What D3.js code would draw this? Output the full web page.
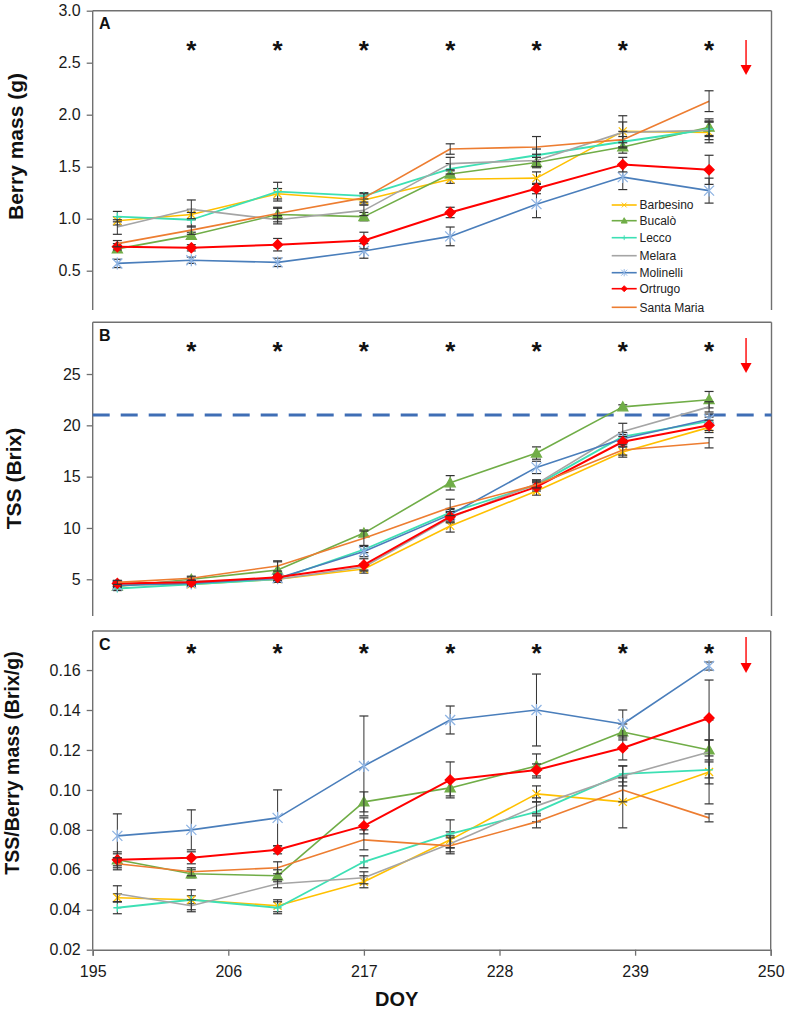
<!DOCTYPE html>
<html><head><meta charset="utf-8">
<script src="https://cdn.jsdelivr.net/npm/d3@7"></script>
<style>body{margin:0;background:#fff}svg{display:block}text{font-family:"Liberation Sans",Arial,sans-serif}</style>
</head><body>
<svg id="c" width="787" height="1011"></svg>
<script>
// ---------- DATA ----------
const doy = [197, 203, 210, 217, 224, 231, 238, 245];
const starDoy = [203, 210, 217, 224, 231, 238, 245];
const arrowDoy = 248;
const cultivars = ["Barbesino", "Bucalò", "Lecco", "Melara", "Molinelli", "Ortrugo", "Santa Maria"];
const xTicks = [195, 206, 217, 228, 239, 250];
const massTicks = [0.5, 1.0, 1.5, 2.0, 2.5, 3.0];
const tssTicks = [5, 10, 15, 20, 25];
const ratioTicks = [0.02, 0.04, 0.06, 0.08, 0.10, 0.12, 0.14, 0.16];
const tssThreshold = 21;

// Panel A: berry mass (g), cultivar order as above
const massMeans = [
  [0.98, 1.04, 1.24, 1.18, 1.38, 1.39, 1.84, 1.83],
  [0.71, 0.84, 1.04, 1.02, 1.43, 1.54, 1.69, 1.88],
  [1.02, 0.99, 1.26, 1.22, 1.48, 1.61, 1.74, 1.86],
  [0.92, 1.09, 0.99, 1.08, 1.53, 1.56, 1.83, 1.85],
  [0.57, 0.60, 0.58, 0.69, 0.83, 1.14, 1.40, 1.27],
  [0.73, 0.72, 0.75, 0.79, 1.06, 1.29, 1.52, 1.47],
  [0.76, 0.89, 1.05, 1.20, 1.67, 1.69, 1.76, 2.13]
];
const massErr = [
  [0.04, 0.05, 0.05, 0.04, 0.04, 0.06, 0.15, 0.10],
  [0.03, 0.03, 0.07, 0.04, 0.03, 0.05, 0.06, 0.08],
  [0.05, 0.07, 0.09, 0.03, 0.05, 0.06, 0.05, 0.07],
  [0.07, 0.09, 0.04, 0.05, 0.06, 0.06, 0.10, 0.09],
  [0.04, 0.03, 0.04, 0.07, 0.09, 0.13, 0.12, 0.12],
  [0.03, 0.03, 0.06, 0.08, 0.05, 0.05, 0.07, 0.14],
  [0.03, 0.04, 0.05, 0.04, 0.05, 0.10, 0.08, 0.10]
];
// Panel B: TSS (Brix)
const tssMeans = [
  [4.5, 4.5, 5.0, 6.0, 10.2, 13.6, 17.4, 19.8],
  [4.3, 5.0, 5.9, 9.5, 14.4, 17.3, 21.8, 22.5],
  [4.1, 4.5, 5.0, 7.9, 11.5, 14.2, 18.9, 20.4],
  [4.5, 4.8, 5.0, 6.2, 11.0, 14.3, 19.4, 21.8],
  [4.4, 4.6, 5.1, 7.7, 11.3, 15.9, 18.7, 20.6],
  [4.6, 4.7, 5.2, 6.4, 11.1, 14.0, 18.4, 20.0],
  [4.7, 5.1, 6.3, 9.0, 12.0, 14.2, 17.6, 18.3]
];
const tssErr = [
  [0.2, 0.2, 0.3, 0.4, 0.6, 0.4, 0.5, 0.5],
  [0.2, 0.2, 0.8, 0.3, 0.7, 0.6, 0.2, 0.8],
  [0.2, 0.2, 0.3, 0.3, 0.4, 0.4, 0.4, 0.4],
  [0.2, 0.2, 0.3, 0.3, 0.5, 0.4, 0.8, 0.5],
  [0.2, 0.2, 0.3, 0.5, 0.5, 0.6, 0.4, 0.5],
  [0.2, 0.2, 0.3, 0.6, 0.5, 0.4, 0.5, 0.5],
  [0.2, 0.2, 0.5, 0.7, 0.8, 0.3, 0.5, 0.5]
];
// Panel C: TSS / berry mass (Brix/g)
const ratioMeans = [
  [0.046, 0.045, 0.042, 0.054, 0.075, 0.098, 0.094, 0.109],
  [0.065, 0.058, 0.057, 0.094, 0.101, 0.112, 0.129, 0.120],
  [0.041, 0.045, 0.041, 0.064, 0.078, 0.089, 0.108, 0.110],
  [0.048, 0.042, 0.053, 0.056, 0.073, 0.092, 0.107, 0.119],
  [0.077, 0.080, 0.086, 0.112, 0.135, 0.140, 0.133, 0.162],
  [0.065, 0.066, 0.070, 0.082, 0.105, 0.110, 0.121, 0.136],
  [0.063, 0.059, 0.061, 0.075, 0.072, 0.084, 0.100, 0.086]
];
const ratioErr = [
  [0.002, 0.002, 0.003, 0.003, 0.004, 0.004, 0.013, 0.016],
  [0.003, 0.002, 0.003, 0.005, 0.004, 0.006, 0.004, 0.005],
  [0.003, 0.005, 0.003, 0.003, 0.007, 0.005, 0.004, 0.004],
  [0.004, 0.003, 0.002, 0.003, 0.004, 0.004, 0.005, 0.016],
  [0.011, 0.010, 0.014, 0.025, 0.007, 0.018, 0.007, 0.002],
  [0.004, 0.003, 0.002, 0.004, 0.009, 0.003, 0.006, 0.019],
  [0.003, 0.002, 0.003, 0.005, 0.004, 0.003, 0.006, 0.002]
];

// ---------- STYLE ----------
const colors = ["#FFC000", "#70AD47", "#3DE0B4", "#A5A5A5", "#4A7EBB", "#FF0000", "#ED7D31"];
const markerFill = ["none", "#70AD47", "none", "none", "none", "#FF0000", "none"];
const markerStroke = ["#FFC000", "#70AD47", "#3DE0B4", "none", "#8FB4E3", "#FF0000", "none"];
const markerType = ["x", "tri", "plus", "none", "star", "diamond", "none"];
const lineW = [1.6, 1.6, 1.8, 1.6, 1.6, 2.0, 1.6];
const frameColor = "#707070";
const font = '"Liberation Sans", Arial, sans-serif';

const svg = d3.select("#c");
const x = d3.scaleLinear().domain([195, 250]).range([92.7, 770.7]);
const xLeft = x(195), xRight = 771.5;

function markerPath(t) {
  switch (t) {
    case "x": return "M-4,-4L4,4M-4,4L4,-4";
    case "plus": return "M-4,0L4,0M0,-4L0,4";
    case "star": return "M-5,-5L5,5M-5,5L5,-5M0,-6L0,6";
    case "tri": return "M0,-5L5,4L-5,4Z";
    case "diamond": return "M0,-5L5,0L0,5L-5,0Z";
    default: return null;
  }
}

function panel(cfg) {
  const y = d3.scaleLinear().domain(cfg.domain).range(cfg.range);
  const g = svg.append("g");
  // frame: top + right
  g.append("line").attr("x1", xLeft).attr("x2", cfg.right).attr("y1", cfg.top).attr("y2", cfg.top)
    .attr("stroke", frameColor).attr("stroke-width", 1.4);
  g.append("line").attr("x1", cfg.right).attr("x2", cfg.right).attr("y1", cfg.top).attr("y2", cfg.bottom)
    .attr("stroke", frameColor).attr("stroke-width", 1.4);
  // left axis
  const ax = g.append("g").attr("transform", `translate(${xLeft},0)`)
    .call(d3.axisLeft(y).tickValues(cfg.ticks).tickSize(6).tickPadding(6).tickFormat(d3.format(cfg.fmt)));
  ax.select(".domain").remove();
  ax.selectAll(".tick line").attr("stroke", frameColor).attr("stroke-width", 1.3);
  ax.selectAll(".tick text").attr("font-family", font).attr("font-size", 16).attr("fill", "#1a1a1a");
  g.append("line").attr("x1", xLeft).attr("x2", xLeft).attr("y1", cfg.top).attr("y2", cfg.bottom)
    .attr("stroke", frameColor).attr("stroke-width", 1.4);

  // panel letter
  g.append("text").attr("x", 99).attr("y", cfg.top + 18.6).attr("font-size", 16).attr("font-weight", "bold")
    .attr("font-family", font).attr("fill", "#111").text(cfg.letter);
  // y title
  g.append("text").attr("transform", `translate(${cfg.titleX},${cfg.titleY}) rotate(-90)`)
    .attr("text-anchor", "middle").attr("font-size", cfg.titleSize).attr("font-weight", "bold")
    .attr("font-family", font).attr("fill", "#111").text(cfg.title);

  // asterisks
  g.selectAll(".star").data(starDoy).join("text")
    .attr("x", d => x(d)).attr("y", cfg.starY + 14).attr("text-anchor", "middle")
    .attr("font-size", 26).attr("font-weight", "bold").attr("font-family", font).attr("fill", "#111").text("*");

  // arrow
  const ax0 = x(arrowDoy);
  g.append("line").attr("x1", ax0).attr("x2", ax0).attr("y1", cfg.arrow[0]).attr("y2", cfg.arrow[1] - 8)
    .attr("stroke", "#FF0000").attr("stroke-width", 1.4);
  g.append("path").attr("d", `M${ax0 - 5.5},${cfg.arrow[1] - 10}L${ax0 + 5.5},${cfg.arrow[1] - 10}L${ax0},${cfg.arrow[1]}Z`)
    .attr("fill", "#FF0000");

  // threshold
  if (cfg.threshold != null) {
    g.append("line").attr("x1", xLeft).attr("x2", cfg.right).attr("y1", y(cfg.threshold)).attr("y2", y(cfg.threshold))
      .attr("stroke", "#3F6EB5").attr("stroke-width", 3).attr("stroke-dasharray", "17,11");
  }

  const line = d3.line().x((d, i) => x(doy[i])).y(d => y(d));
  cfg.means.forEach((vals, s) => {
    const sg = g.append("g");
    sg.append("path").attr("d", line(vals)).attr("fill", "none").attr("stroke", colors[s])
      .attr("stroke-width", lineW[s]).attr("stroke-linejoin", "round");
    vals.forEach((v, i) => {
      const e = cfg.err[s][i], cx = x(doy[i]);
      const y1 = y(v + e), y2 = y(v - e);
      sg.append("line").attr("x1", cx).attr("x2", cx).attr("y1", y1).attr("y2", y2).attr("stroke", "#333").attr("stroke-width", 1);
      [y1, y2].forEach(yy => sg.append("line").attr("x1", cx - 4.5).attr("x2", cx + 4.5).attr("y1", yy).attr("y2", yy)
        .attr("stroke", "#333").attr("stroke-width", 1.2));
    });
    const p = markerPath(markerType[s]);
    if (p) {
      sg.selectAll(".m").data(vals).join("path")
        .attr("transform", (d, i) => `translate(${x(doy[i])},${y(d)})`)
        .attr("d", p).attr("fill", markerFill[s]).attr("stroke", markerStroke[s]).attr("stroke-width", 1.3);
    }
  });
  return { g, y };
}

panel({ letter: "A", domain: [0, 3], range: [322.7, 10.7], top: 10.7, bottom: 310, right: xRight,
  ticks: massTicks, fmt: ".1f", title: "Berry mass (g)", titleX: 23, titleY: 146.5, titleSize: 21,
  starY: 45, arrow: [40, 75], means: massMeans, err: massErr });
panel({ letter: "B", domain: [0, 30], range: [630.6, 322.7], top: 322.2, bottom: 616, right: xRight,
  ticks: tssTicks, fmt: "d", title: "TSS (Brix)", titleX: 21, titleY: 478.5, titleSize: 21,
  starY: 346, arrow: [338, 373], threshold: tssThreshold, means: tssMeans, err: tssErr });
panel({ letter: "C", domain: [0.02, 0.18], range: [949.7, 630.1], top: 631, bottom: 949.7, right: x(250),
  ticks: ratioTicks, fmt: ".2f", title: "TSS/Berry mass (Brix/g)", titleX: 18.5, titleY: 763, titleSize: 19.5,
  starY: 648, arrow: [637, 673], means: ratioMeans, err: ratioErr });

// x axis (bottom panel)
const xa = svg.append("g").attr("transform", "translate(0,949.7)")
  .call(d3.axisBottom(x).tickValues(xTicks).tickSize(6).tickPadding(10).tickFormat(d3.format("d")));
xa.select(".domain").attr("stroke", frameColor).attr("stroke-width", 1.4);
xa.selectAll(".tick line").attr("stroke", frameColor).attr("stroke-width", 1.3);
xa.selectAll(".tick text").attr("font-family", font).attr("font-size", 16).attr("fill", "#1a1a1a");
svg.append("text").attr("x", 396.7).attr("y", 1006).attr("text-anchor", "middle").attr("font-size", 20)
  .attr("font-weight", "bold").attr("font-family", font).attr("fill", "#111").text("DOY");

// legend (in panel A)
const legRows = [205, 220.7, 237.7, 255.7, 272.7, 288.7, 307.3];
const lg = svg.append("g");
cultivars.forEach((name, s) => {
  const yy = legRows[s];
  lg.append("line").attr("x1", 611.7).attr("x2", 636.7).attr("y1", yy).attr("y2", yy)
    .attr("stroke", colors[s]).attr("stroke-width", 1.6);
  const p = markerPath(markerType[s]);
  if (p) lg.append("path").attr("transform", `translate(624.2,${yy}) scale(0.6)`).attr("d", p)
    .attr("fill", markerFill[s]).attr("stroke", markerStroke[s]).attr("stroke-width", 1.6);
  lg.append("text").attr("x", 639.5).attr("y", yy + 4.2).attr("font-size", 12).attr("font-family", font)
    .attr("fill", "#222").text(name);
});
</script>
</body></html>
